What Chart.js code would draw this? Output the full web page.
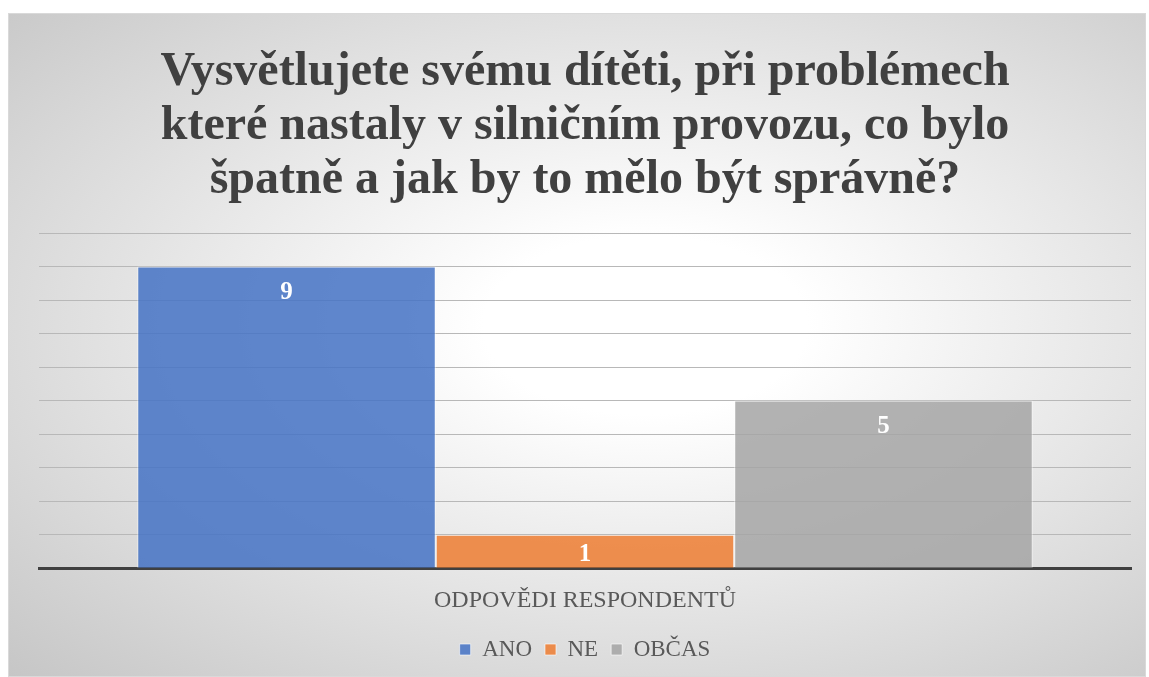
<!DOCTYPE html>
<html lang="cs">
<head>
<meta charset="utf-8">
<script src="https://cdn.jsdelivr.net/npm/chart.js@4.4.1/dist/chart.umd.min.js"></script>
<style>
    html, body { margin: 0; padding: 0; background: #fff; }
    #ramec {
        position: absolute;
        left: 8px; top: 13px;
        width: 1138px; height: 664px;
        border: 1px solid #d9d9d9;
        box-sizing: border-box;
        background: radial-gradient(ellipse farthest-corner at 56% 47%, #ffffff 0%, #ffffff 18%, #c6c6c6 100%);
    }
</style>
</head>
<body>
<div id="ramec"><canvas id="graf"></canvas></div>
<script>
// ===================== DATA =====================
const kategorie  = ["ODPOVĚDI RESPONDENTŮ"];
const odpovedi   = ["ANO", "NE", "OBČAS"];
const pocty      = [9, 1, 5];
const barvy      = ["rgba(68,114,196,0.85)", "rgba(237,125,49,0.85)", "rgba(165,165,165,0.85)"];
const titulek    = [
    "Vysvětlujete svému dítěti, při problémech",
    "které nastaly v silničním provozu, co bylo",
    "špatně a jak by to mělo být správně?"
];

const PISMO = "'Liberation Serif', 'Times New Roman', serif";

// popisky hodnot uvnitř sloupců (u horního okraje, u nízkých sloupců blíž středu)
const popiskyPlugin = {
    id: "popisky",
    afterDatasetsDraw(chart) {
        const ctx = chart.ctx;
        ctx.save();
        ctx.fillStyle = "#ffffff";
        ctx.font = "bold 25px " + PISMO;
        ctx.textAlign = "center";
        ctx.textBaseline = "middle";
        chart.data.datasets.forEach((ds, i) => {
            chart.getDatasetMeta(i).data.forEach((bar, j) => {
                const vyska = bar.base - bar.y;
                const posun = Math.min(26, vyska / 2 + 3);
                ctx.fillText(ds.data[j], bar.x, bar.y + posun);
            });
        });
        ctx.restore();
    }
};

new Chart(document.getElementById("graf"), {
    type: "bar",
    data: {
        labels: kategorie,
        datasets: odpovedi.map((o, i) => ({
            label: o,
            data: [pocty[i]],
            backgroundColor: barvy[i],
            borderColor: "rgba(255,255,255,0.6)",
            borderWidth: 1,
            categoryPercentage: 0.82,
            barPercentage: 1,
        })),
    },
    options: {
        responsive: true,
        maintainAspectRatio: false,
        animation: false,
        layout: { padding: { left: 30, right: 14, top: 0, bottom: 5 } },
        plugins: {
            title: {
                display: true,
                text: titulek,
                color: "#404040",
                font: { family: PISMO, size: 48, weight: "bold", lineHeight: 1.125 },
                padding: { top: 32, bottom: 25 },
            },
            legend: {
                position: "bottom",
                labels: {
                    color: "#595959",
                    font: { family: PISMO, size: 23 },
                    boxWidth: 11,
                    boxHeight: 11,
                    padding: 13,
                },
            },
            tooltip: { enabled: false },
        },
        scales: {
            x: {
                grid: { display: false },
                border: { display: true, color: "#404040", width: 3 },
                ticks: { color: "#595959", font: { family: PISMO, size: 24 }, padding: 10 },
            },
            y: {
                min: 0,
                max: 10,
                ticks: { display: false, stepSize: 1 },
                grid: { color: "#b8b8b8", drawTicks: false },
                border: { display: false },
            },
        },
    },
    plugins: [popiskyPlugin],
});
</script>
</body>
</html>
